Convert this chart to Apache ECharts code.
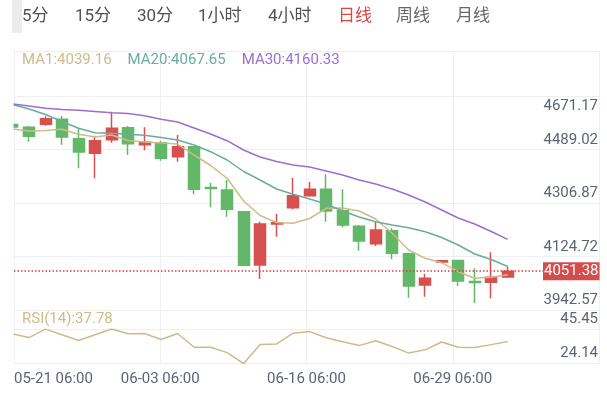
<!DOCTYPE html>
<html><head><meta charset="utf-8">
<script src="https://cdn.jsdelivr.net/npm/echarts@6/dist/echarts.min.js"></script>
<style>html,body{margin:0;padding:0;background:#fff}#c{width:607px;height:400px}</style>
</head><body><div id="c"></div>
<script>
// ---- data ----
const tabs = ['5分','15分','30分','1小时','4小时','日线','周线','月线'];
const activeTab = '日线';
const xTickLabels = ['05-21 06:00','06-03 06:00','06-16 06:00','06-29 06:00'];
const priceTicks = [3942.57, 4124.72, 4306.87, 4489.02, 4671.17];
const rsiTicks = [24.14, 45.45];
const lastPrice = 4051.38;

const open  = [4553.72,4544.13,4554.40,4571.52,4505.10,4455.11,4501.68,4542.76,4484.56,4491.41,4443.47,4477.71,4338.02,4329.46,4255.16,4072.67,4213.05,4268.86,4309.94,4331.86,4258.59,4205.18,4145.60,4190.11,4111.36,4004.20,4082.95,4088.08,4016.18,4013.44,4031.59];
const close = [4545.16,4513.32,4573.58,4510.92,4459.56,4498.25,4540.71,4487.98,4492.77,4437.99,4477.71,4331.86,4334.60,4263.38,4071.65,4213.05,4217.50,4309.94,4331.86,4257.56,4209.63,4154.85,4192.51,4112.73,4000.77,4027.14,4087.40,4017.89,4012.76,4030.56,4051.38];
const low   = [4541.74,4494.83,4549.61,4484.56,4403.76,4369.52,4491.41,4449.29,4465.38,4429.78,4426.35,4314.74,4270.23,4238.04,4068.22,4024.74,4169.57,4263.38,4306.52,4220.93,4201.75,4121.63,4137.73,4092.19,3960.72,3964.14,4081.92,4000.77,3942.57,3958.66,4031.59];
const high  = [4557.14,4548.58,4581.79,4582.82,4540.71,4515.37,4597.54,4548.58,4544.13,4498.25,4517.77,4480.11,4354.45,4363.70,4257.56,4220.93,4247.29,4370.55,4356.85,4383.21,4331.86,4209.63,4220.93,4198.33,4113.76,4042.89,4088.77,4089.79,4061.38,4116.16,4066.85];
const ma1   = [4538.31,4531.46,4533.18,4537.63,4520.17,4510.92,4517.77,4498.94,4493.80,4490.38,4486.95,4449.29,4413.34,4369.52,4291.80,4242.15,4218.19,4215.45,4231.88,4266.80,4267.83,4257.56,4230.17,4181.21,4124.03,4095.61,4080.55,4049.73,4027.14,4030.56,4039.16];
const ma20  = [4622.19,4606.79,4587.96,4563.99,4540.71,4525.64,4523.59,4520.17,4516.74,4509.21,4500.65,4483.53,4460.59,4432.17,4392.80,4363.70,4332.88,4314.74,4298.65,4281.53,4257.56,4237.02,4220.93,4209.63,4200.38,4186.69,4166.83,4141.15,4110.34,4091.51,4067.65];
const ma30  = [4623.91,4617.06,4609.18,4605.08,4602.34,4598.23,4594.12,4591.38,4583.85,4571.52,4562.28,4541.74,4521.19,4498.25,4466.41,4442.44,4427.04,4415.05,4408.21,4394.51,4380.82,4363.70,4350.00,4332.88,4312.34,4288.37,4260.98,4233.59,4213.05,4187.37,4160.33];
const rsi   = [42.47,40.17,45.39,41.85,38.30,41.85,45.45,42.47,42.65,38.93,42.65,34.20,34.20,30.85,24.14,35.82,36.26,42.90,43.84,40.02,37.61,35.20,38.21,34.60,30.57,32.58,37.41,34.19,33.99,35.80,37.78];

// ---- style ----
const FONT = 'Roboto, "Noto Sans CJK SC", sans-serif';
const UP = '#d65050', DOWN = '#63b768';
const C_MA1 = '#cfbb8a', C_MA20 = '#6aac9e', C_MA30 = '#9b6fcf', C_RSI = '#cfbb8a';
const AXIS_TXT = '#5b6478', GRID_LINE = '#efefef', PRICE_RED = '#e23c3c';
const X_MIN = 0.091, X_MAX = 35.53;

const candleData = open.map((o, i) => [i, o, close[i], low[i], high[i]]);
const toXY = arr => arr.map((v, i) => [i, v]);
const last = arr => arr[arr.length - 1];
const yMin = priceTicks[0], yMax = last(priceTicks);
const yInt = Math.round((priceTicks[1] - priceTicks[0]) * 100) / 100;

const chart = echarts.init(document.getElementById('c'), null, { renderer: 'canvas' });

const tabX = [22, 75, 137, 198, 268, 338, 396, 456];
const graphics = [
  { type: 'rect', shape: { x: 12, y: 0, width: 10, height: 33 }, style: { fill: '#ececec' }, z: -1 },
  // mask for the plot's left edge (hides the part of the first candle / lines left of the frame)
  { type: 'rect', shape: { x: 0, y: 85, width: 13.5, height: 282 }, style: { fill: '#fff' }, z: 100 }
].concat(tabs.map((t, i) => ({
  type: 'text', x: tabX[i], y: 17,
  style: { text: t, font: '17px ' + FONT, fill: t === activeTab ? '#df4545' : (i < 5 ? '#515151' : '#686868'), textVerticalAlign: 'middle' }
})));

const lineSeries = (name, data, color) => ({
  name, type: 'line', xAxisIndex: 0, yAxisIndex: 0, data: toXY(data), showSymbol: false, clip: true,
  lineStyle: { color, width: 1.5 }, itemStyle: { color }, z: 3, silent: true
});

chart.setOption({
  animation: false,
  backgroundColor: '#fff',
  textStyle: { fontFamily: FONT },
  graphic: graphics,
  legend: [
    { data: [{ name: 'MA1', textStyle: { color: C_MA1 } }, { name: 'MA20', textStyle: { color: C_MA20 } }, { name: 'MA30', textStyle: { color: C_MA30 } }],
      left: 17, top: 51, padding: 0, itemWidth: 0, itemHeight: 0, itemGap: 11, icon: 'rect', selectedMode: false,
      textStyle: { fontSize: 15, fontFamily: FONT, lineHeight: 18 },
      formatter: n => n + ':' + last({ MA1: ma1, MA20: ma20, MA30: ma30 }[n]).toFixed(2) },
    { data: [{ name: 'RSI', textStyle: { color: C_RSI } }],
      left: 17, top: 310, padding: 0, itemWidth: 0, itemHeight: 0, icon: 'rect', selectedMode: false,
      textStyle: { fontSize: 15, fontFamily: FONT, lineHeight: 18 },
      formatter: () => 'RSI(14):' + last(rsi).toFixed(2) }
  ],
  grid: [
    { left: 14, width: 585, top: 90.2, height: 212.8 },
    { left: 14, width: 585, top: 329, height: 34.5 },
    { left: 14, width: 585, top: 51, height: 312.5 }
  ],
  xAxis: [
    { type: 'value', gridIndex: 0, min: X_MIN, max: X_MAX, show: false },
    { type: 'value', gridIndex: 1, min: X_MIN, max: X_MAX, show: false },
    { type: 'value', gridIndex: 2, min: 0, max: 4, interval: 1,
      axisLine: { show: false }, axisTick: { show: false },
      splitLine: { show: true, lineStyle: { color: GRID_LINE, width: 1 } },
      axisLabel: { show: true, margin: 8, color: AXIS_TXT, fontSize: 15, fontFamily: FONT,
        showMaxLabel: false, alignMinLabel: 'left',
        formatter: v => xTickLabels[v] || '' } }
  ],
  yAxis: [
    { type: 'value', gridIndex: 0, position: 'right', min: yMin, max: yMax, interval: yInt,
      axisLine: { show: false }, axisTick: { show: false }, splitLine: { show: false },
      axisLabel: { inside: true, margin: 1, verticalAlign: 'middle', showMinLabel: true, showMaxLabel: true,
        formatter: v => (Math.abs(v - yMax) < 0.01 ? '{t|' : '{n|') + v.toFixed(2) + '}',
        rich: {
          n: { fontSize: 15, color: AXIS_TXT, fontFamily: FONT, padding: [0, 0, 6, 0] },
          t: { fontSize: 15, color: AXIS_TXT, fontFamily: FONT, padding: [33, 0, 0, 0] }
        } } },
    { type: 'value', gridIndex: 1, position: 'right', min: rsiTicks[0], max: rsiTicks[1],
      interval: Math.round((rsiTicks[1] - rsiTicks[0]) * 100) / 100,
      axisLine: { show: false }, axisTick: { show: false },
      splitLine: { show: true, lineStyle: { color: GRID_LINE } },
      axisLabel: { inside: true, margin: 1, verticalAlign: 'middle', showMinLabel: true, showMaxLabel: true,
        formatter: v => '{n|' + v.toFixed(2) + '}',
        rich: { n: { fontSize: 15, color: AXIS_TXT, fontFamily: FONT, padding: [0, 0, 20, 0] } } } },
    { type: 'value', gridIndex: 2, min: 0, max: 5.841, interval: 1,
      axisLine: { show: false }, axisTick: { show: false }, axisLabel: { show: false },
      splitLine: { show: true, lineStyle: { color: GRID_LINE, width: 1 } } }
  ],
  series: [
    { name: 'K', type: 'candlestick', xAxisIndex: 0, yAxisIndex: 0, data: candleData, clip: true,
      barWidth: 11.5, silent: true,
      itemStyle: { color: UP, color0: DOWN, borderColor: UP, borderColor0: DOWN, borderWidth: 1.5 },
      markLine: { symbol: ['none', 'none'], silent: true, animation: false,
        data: [{ yAxis: last(close) }],
        itemStyle: { color: PRICE_RED },
        lineStyle: { color: PRICE_RED, type: [1.5, 2], width: 1.5, opacity: 1 },
        label: { position: 'end', distance: -56, formatter: () => lastPrice.toFixed(2),
          backgroundColor: '#d44d4d', color: '#fff', fontSize: 15, fontFamily: FONT, padding: [2, 1, 1, 1] } } },
    lineSeries('MA1', ma1, C_MA1),
    lineSeries('MA20', ma20, C_MA20),
    lineSeries('MA30', ma30, C_MA30),
    { name: 'RSI', type: 'line', xAxisIndex: 1, yAxisIndex: 1, data: toXY(rsi), showSymbol: false, clip: true,
      lineStyle: { color: C_RSI, width: 1.5 }, itemStyle: { color: C_RSI }, silent: true }
  ]
});
</script></body></html>
